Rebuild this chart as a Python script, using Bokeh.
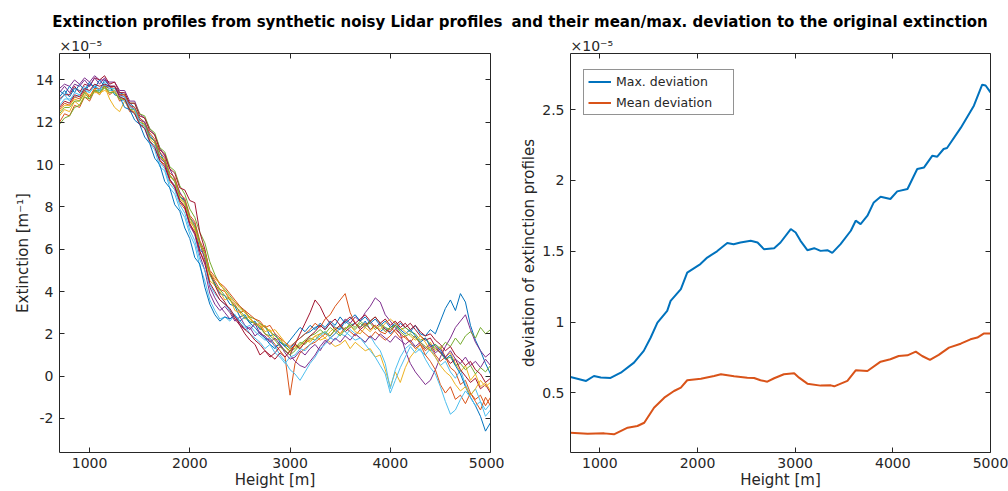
from bokeh.plotting import figure
from bokeh.layouts import row
from bokeh.models import (Range1d, FixedTicker, LinearAxis, Title,
                          CustomJSTickFormatter, Legend, LegendItem)
from bokeh.embed import file_html
from bokeh.resources import INLINE

FONT = "DejaVu Sans"
AX = "#262626"
COLORS = ["#0072BD", "#D95319", "#EDB120", "#7E2F8E", "#77AC30", "#4DBEEE", "#A2142F"]

# ---------------- data (extinction in units of 1e-5 m^-1) ----------------
height = list(range(700, 5001, 50))

ext_01 = [13.2, 13.5, 13.2, 13.6, 13.5, 13.4, 13.8, 13.7, 13.5, 14.0,
          13.7, 13.7, 13.4, 13.3, 12.9, 12.7, 12.2, 12.0, 11.4, 11.1,
          10.6, 10.1, 9.5, 9.2, 8.5, 8.3, 7.3, 7.1, 6.0, 5.7,
          4.8, 4.4, 3.9, 3.8, 3.4, 3.3, 2.8, 2.9, 2.5, 2.6,
          2.2, 2.4, 1.9, 2.0, 1.6, 1.5, 1.3, 1.6, 1.8, 2.0,
          2.1, 2.3, 2.4, 2.2, 2.5, 2.3, 2.2, 2.6, 2.4, 2.5,
          2.3, 2.6, 2.2, 2.4, 2.1, 2.3, 2.0, 2.2, 2.5, 2.3,
          2.1, 2.4, 2.0, 1.9, 2.2, 2.0, 2.6, 3.2, 3.6, 3.1,
          3.9, 3.5, 2.4, 1.7, 1.2, 0.6, 0.1]
ext_02 = [12.0, 12.4, 12.3, 12.8, 12.7, 13.2, 13.0, 13.5, 13.3, 13.7,
          13.3, 13.5, 13.0, 13.1, 12.5, 12.5, 11.9, 11.8, 11.1, 10.9,
          10.2, 10.0, 9.2, 9.0, 8.2, 7.9, 7.2, 6.7, 5.9, 5.4,
          4.9, 4.5, 4.1, 4.0, 3.6, 3.4, 3.0, 3.1, 2.7, 2.5,
          2.4, 2.0, 1.8, 1.5, 1.2, 0.9, -0.9, 0.6, 1.1, 1.3,
          1.5, 1.6, 1.8, 2.0, 1.9, 2.2, 2.0, 2.3, 2.1, 1.9,
          2.2, 2.0, 1.8, 2.1, 1.9, 1.7, 1.9, 2.2, 2.0, 1.8,
          1.6, 1.9, 1.5, 1.2, 1.4, 1.0, 0.7, 0.9, 0.4, 0.2,
          -0.4, -0.2, -0.8, -1.1, -0.9, -1.4, -1.0]
ext_03 = [12.3, 12.6, 12.5, 13.0, 12.8, 13.3, 13.2, 13.6, 13.3, 13.7,
          13.1, 12.7, 12.5, 13.0, 12.6, 12.5, 12.0, 11.9, 11.3, 11.1,
          10.4, 10.2, 9.4, 9.3, 8.4, 8.1, 7.5, 6.9, 6.3, 5.6,
          4.5, 4.3, 4.0, 3.6, 3.7, 3.1, 3.0, 2.7, 2.8, 2.4,
          2.5, 2.1, 2.2, 1.7, 1.8, 1.4, 1.1, 1.5, 1.4, 1.7,
          1.6, 1.9, 1.7, 1.8, 1.6, 1.4, 1.5, 1.7, 1.3, 1.6,
          1.4, 1.2, 1.3, 0.9, 1.0, 0.3, -0.5, 0.2, -0.3, 0.4,
          0.9, 1.2, 1.5, 1.3, 1.6, 1.2, 1.4, 0.9, 1.1, 0.6,
          0.2, 0.5, -0.2, 0.1, -0.5, -0.3, -0.7]
ext_04 = [13.6, 13.8, 13.7, 14.0, 13.8, 14.1, 13.9, 14.2, 14.0, 14.0,
          13.9, 13.9, 13.5, 13.5, 13.0, 13.0, 12.4, 12.2, 11.7, 11.4,
          10.8, 10.4, 9.8, 9.3, 8.7, 8.3, 7.5, 7.2, 6.3, 5.5,
          4.2, 3.7, 3.3, 3.0, 2.7, 2.9, 2.4, 2.2, 2.3, 1.9,
          2.1, 1.8, 1.7, 1.4, 1.5, 1.1, 0.8, 0.9, 1.2, 1.0,
          1.3, 1.5, 1.2, 1.6, 1.8, 2.0, 2.3, 2.7, 2.5, 2.8,
          2.6, 3.0, 3.3, 3.7, 3.5, 2.9, 2.6, 2.3, 2.0, 1.2,
          0.6, 0.2, -0.1, -0.4, -0.2, 0.3, 0.9, 1.4, 1.8, 2.3,
          2.6, 2.9, 2.2, 1.6, 1.2, 0.9, 1.1]
ext_05 = [11.9, 12.2, 12.3, 12.7, 12.8, 13.2, 13.1, 13.5, 13.5, 13.6,
          13.5, 13.6, 13.3, 13.3, 12.9, 12.9, 12.4, 12.3, 11.7, 11.5,
          10.8, 10.6, 9.9, 9.7, 9.0, 8.6, 7.9, 7.5, 6.8, 6.3,
          5.4, 4.8, 4.3, 4.1, 3.8, 3.5, 3.3, 3.0, 2.8, 2.7,
          2.5, 2.3, 2.1, 1.9, 1.7, 1.4, 1.2, 1.3, 1.6, 1.5,
          1.8, 1.7, 2.0, 2.1, 1.9, 2.2, 2.4, 2.2, 2.5, 2.3,
          2.6, 2.4, 2.5, 2.2, 2.4, 2.1, 2.3, 2.4, 2.2, 2.3,
          2.1, 2.0, 1.7, 1.8, 1.5, 1.3, 1.1, 0.8, 0.9, 0.5,
          0.6, 0.3, 0.5, 0.1, 0.4, 0.2, 0.5]
ext_06 = [12.8, 13.1, 13.1, 13.2, 13.3, 13.5, 13.4, 13.7, 13.4, 13.8,
          13.5, 13.5, 13.1, 13.0, 12.6, 12.4, 11.9, 11.7, 11.0, 10.7,
          9.9, 9.7, 8.9, 8.6, 7.9, 7.5, 6.7, 6.2, 5.2, 4.5,
          3.6, 3.1, 2.7, 2.8, 2.6, 2.9, 2.5, 2.3, 2.4, 2.1,
          1.9, 1.7, 1.8, 1.4, 1.0, 0.7, 0.3, 0.1, -0.2, 0.2,
          0.6, 0.9, 1.3, 1.5, 1.8, 1.7, 2.0, 1.9, 2.2, 2.0,
          1.8, 1.6, 1.9, 1.5, 1.2, 0.6, -0.6, 0.3, 0.9, 1.3,
          1.5, 1.4, 1.2, 1.0, 1.3, 0.9, 0.5, 0.7, 0.2, -0.1,
          0.3, -0.4, -0.9, -0.6, -1.2, -1.6, -1.3]
ext_07 = [13.1, 13.3, 13.3, 13.7, 13.4, 13.8, 13.7, 14.1, 14.0, 14.2,
          13.8, 13.9, 13.4, 13.4, 12.9, 12.9, 12.3, 12.2, 11.6, 11.4,
          10.7, 10.5, 9.8, 9.6, 8.9, 8.8, 8.3, 8.2, 6.8, 6.0,
          4.9, 4.3, 3.8, 3.5, 3.1, 2.7, 2.4, 2.0, 1.7, 1.5,
          1.0, 1.2, 0.9, 1.1, 1.4, 1.2, 1.0, 1.5, 2.0, 2.5,
          3.0, 3.6, 3.3, 2.8, 2.5, 2.2, 2.4, 2.1, 2.3, 2.5,
          2.2, 2.4, 2.6, 2.3, 2.5, 2.2, 2.1, 2.4, 2.6, 2.3,
          2.5, 2.2, 1.9, 1.7, 1.8, 1.4, 1.1, 0.9, 0.6, 0.8,
          0.3, 0.0, -0.3, -0.1, -0.6, -0.4, -0.8]
ext_08 = [13.5, 13.3, 13.7, 13.4, 13.8, 13.5, 13.9, 13.6, 14.0, 13.7,
          13.7, 13.3, 13.2, 12.7, 12.6, 12.1, 11.9, 11.3, 11.0, 10.3,
          10.0, 9.2, 8.9, 8.1, 7.8, 7.0, 6.5, 5.6, 5.3, 4.2,
          3.4, 2.9, 2.6, 2.8, 2.7, 2.9, 2.6, 2.8, 2.5, 2.3,
          2.0, 1.8, 1.5, 1.3, 1.6, 1.4, 1.7, 2.0, 2.3, 2.1,
          2.4, 2.2, 2.5, 2.3, 2.6, 2.4, 2.8, 2.5, 2.7, 2.9,
          2.6, 2.8, 2.5, 2.7, 2.4, 2.6, 2.3, 2.5, 2.2, 2.0,
          2.2, 1.9, 1.6, 1.8, 1.4, 1.5, 1.2, 0.8, 1.0, 0.5,
          0.1, -0.5, -1.0, -1.4, -1.9, -2.6, -2.2]
ext_09 = [12.6, 12.9, 12.8, 13.2, 13.1, 13.5, 13.2, 13.6, 13.6, 13.7,
          13.6, 13.7, 13.3, 13.3, 12.8, 12.7, 12.2, 12.0, 11.5, 11.2,
          10.6, 10.3, 9.6, 9.4, 8.6, 8.4, 7.6, 7.3, 6.4, 5.9,
          5.0, 4.7, 4.4, 4.2, 3.9, 3.6, 3.3, 3.1, 2.9, 2.7,
          2.6, 2.3, 2.4, 2.0, 1.8, 1.6, 1.4, 1.6, 1.8, 2.0,
          2.2, 2.5, 2.3, 2.7, 2.9, 3.3, 3.6, 3.9, 3.0, 2.5,
          2.3, 2.5, 2.2, 2.4, 2.1, 2.0, 2.3, 2.1, 1.8, 1.9,
          1.6, 1.3, 1.5, 1.0, 0.7, 0.3, -0.4, -0.8, -0.5, -1.1,
          -0.9, -1.3, -0.8, -1.2, -1.6, -1.0, -1.4]
ext_10 = [12.5, 12.8, 12.8, 13.1, 13.0, 13.4, 13.3, 13.4, 13.4, 13.5,
          13.4, 13.5, 13.1, 13.1, 12.7, 12.6, 12.1, 11.9, 11.2, 11.0,
          10.4, 10.1, 9.5, 9.2, 8.5, 8.2, 7.3, 7.0, 6.2, 5.8,
          4.9, 4.6, 4.4, 4.0, 3.7, 3.5, 3.2, 3.0, 2.7, 2.5,
          2.3, 2.4, 2.1, 2.2, 1.9, 1.6, 1.3, 1.4, 1.3, 1.6,
          1.7, 1.9, 2.0, 1.8, 2.1, 2.3, 2.0, 2.2, 2.4, 2.1,
          2.0, 2.3, 2.1, 2.4, 2.2, 2.5, 2.7, 2.5, 2.3, 2.1,
          1.9, 1.7, 1.9, 1.6, 1.2, 0.9, 0.5, 0.2, 0.0, -0.4,
          -0.7, -0.5, -0.9, -0.6, -0.2, -0.5, -0.3]
ext_11 = [13.4, 13.7, 13.4, 13.8, 13.7, 14.0, 13.7, 14.1, 13.8, 14.1,
          13.7, 13.7, 13.3, 13.2, 12.8, 12.6, 12.1, 12.0, 11.3, 11.1,
          10.3, 10.1, 9.3, 9.0, 8.3, 8.0, 7.1, 6.7, 5.7, 5.0,
          3.9, 3.4, 3.1, 3.3, 3.0, 2.6, 2.8, 2.4, 2.2, 2.5,
          2.0, 1.9, 1.6, 1.8, 1.5, 1.2, 1.0, 0.7, 0.5, 0.4,
          0.7, 1.0, 1.4, 1.7, 1.5, 1.8, 1.6, 1.9, 1.7, 2.0,
          1.8, 1.6, 1.9, 1.7, 2.0, 1.8, 1.6, 1.9, 1.7, 1.5,
          1.7, 1.4, 1.6, 1.3, 1.5, 1.1, 1.3, 0.9, 1.2, 0.8,
          0.6, 0.9, 0.5, 0.7, 0.4, 0.8, 0.5]
ext_12 = [12.4, 12.7, 12.7, 13.0, 13.0, 13.4, 13.1, 13.5, 13.4, 13.7,
          13.4, 13.4, 13.1, 13.1, 12.6, 12.6, 12.0, 11.9, 11.3, 11.1,
          10.4, 10.2, 9.5, 9.2, 8.5, 8.2, 7.5, 7.1, 6.3, 5.8,
          4.8, 4.3, 4.1, 3.8, 3.6, 3.3, 3.1, 2.8, 2.6, 2.5,
          2.3, 2.0, 1.9, 1.7, 1.4, 1.2, 1.0, 1.2, 1.5, 1.7,
          1.9, 2.0, 2.2, 2.0, 2.3, 2.1, 1.9, 2.2, 2.4, 2.2,
          2.5, 2.3, 2.6, 2.8, 2.5, 2.3, 2.2, 2.4, 2.1, 1.9,
          2.0, 1.8, 1.6, 1.4, 1.2, 1.5, 1.3, 1.6, 1.4, 1.8,
          1.5, 1.9, 2.1, 1.8, 2.3, 2.0, 2.2]
ext_13 = [13.0, 13.3, 13.0, 13.4, 13.3, 13.7, 13.4, 13.8, 13.5, 13.9,
          13.6, 13.6, 13.2, 13.2, 12.7, 12.6, 12.0, 11.8, 11.1, 10.9,
          10.1, 9.8, 9.1, 8.8, 8.1, 7.7, 6.9, 6.4, 5.5, 5.0,
          4.3, 3.9, 3.6, 3.4, 3.1, 2.9, 2.6, 2.4, 2.0, 1.8,
          1.6, 1.3, 1.5, 1.1, 0.9, 0.6, 0.9, 1.0, 1.3, 1.2,
          1.5, 1.7, 1.9, 2.1, 1.8, 2.0, 2.3, 2.1, 1.9, 1.7,
          1.8, 1.5, 1.2, 0.9, 0.5, 0.1, -0.8, -0.2, 0.4, 0.9,
          1.4, 1.1, 1.3, 0.8, 0.4, 0.1, -0.5, -1.2, -1.8, -1.6,
          -1.1, -0.7, -1.0, -1.4, -1.2, -1.9, -1.6]
ext_14 = [12.7, 13.0, 12.9, 13.3, 13.2, 13.6, 13.5, 13.8, 13.7, 13.8,
          13.7, 13.7, 13.2, 13.1, 12.6, 12.4, 11.9, 11.7, 11.1, 10.8,
          10.2, 9.9, 9.3, 8.9, 8.3, 8.0, 7.2, 6.8, 5.9, 5.3,
          4.4, 4.0, 3.6, 3.4, 3.2, 2.8, 2.5, 2.2, 2.0, 1.7,
          1.5, 1.2, 1.0, 0.8, 1.1, 0.9, 1.2, 1.5, 1.3, 1.6,
          1.9, 2.1, 2.4, 2.2, 2.5, 2.7, 2.4, 2.6, 2.8, 2.5,
          2.7, 2.9, 2.6, 2.8, 2.5, 2.7, 2.4, 2.6, 2.3, 2.5,
          2.2, 2.4, 2.1, 1.9, 2.0, 1.7, 1.5, 1.2, 1.4, 1.0,
          0.8, 0.5, 0.7, 0.3, 0.1, -0.3, -0.1]

profiles = [ext_01, ext_02, ext_03, ext_04, ext_05, ext_06, ext_07,
            ext_08, ext_09, ext_10, ext_11, ext_12, ext_13, ext_14]

# deviations (units of 1e-5)
max_dev_h = [700, 860, 940, 1010, 1110, 1215, 1350, 1450, 1520, 1590,
             1690, 1725, 1830, 1895, 2030, 2100, 2200, 2305, 2370, 2440,
             2545, 2615, 2680, 2785, 2850, 2955, 3005, 3055, 3125, 3195,
             3260, 3330, 3380, 3465, 3570, 3620, 3670, 3740, 3805, 3875,
             3975, 4045, 4150, 4250, 4320, 4405, 4455, 4520, 4555, 4695,
             4830, 4915, 4950, 5000]
max_dev = [0.613, 0.585, 0.62, 0.61, 0.606, 0.643, 0.714, 0.797, 0.89, 0.997,
           1.08, 1.15, 1.233, 1.35, 1.41, 1.456, 1.50, 1.558, 1.55, 1.562,
           1.574, 1.562, 1.515, 1.522, 1.562, 1.657, 1.633, 1.574, 1.508, 1.522,
           1.503, 1.508, 1.489, 1.551, 1.645, 1.716, 1.692, 1.751, 1.845, 1.885,
           1.869, 1.923, 1.940, 2.081, 2.092, 2.175, 2.168, 2.222, 2.229, 2.371,
           2.528, 2.676, 2.67, 2.622]
mean_dev_h = [700, 875, 1045, 1145, 1285, 1385, 1455, 1555, 1660, 1760,
              1830, 1895, 2035, 2170, 2240, 2375, 2510, 2580, 2645, 2715,
              2785, 2885, 2990, 3040, 3125, 3260, 3365, 3400, 3535, 3620,
              3740, 3875, 3975, 4060, 4150, 4235, 4300, 4380, 4470, 4575,
              4695, 4795, 4865, 4930, 5000]
mean_dev = [0.219, 0.212, 0.215, 0.208, 0.255, 0.267, 0.29, 0.396, 0.467, 0.514,
            0.538, 0.59, 0.601, 0.62, 0.632, 0.618, 0.608, 0.606, 0.59, 0.58,
            0.604, 0.632, 0.639, 0.608, 0.566, 0.552, 0.554, 0.547, 0.585, 0.66,
            0.655, 0.721, 0.738, 0.761, 0.766, 0.792, 0.761, 0.733, 0.769, 0.82,
            0.848, 0.879, 0.891, 0.919, 0.919]

left_yticks = [-2, 0, 2, 4, 6, 8, 10, 12, 14]
right_yticks = [0.5, 1, 1.5, 2, 2.5]
xticks = [1000, 2000, 3000, 4000, 5000]

for prof in profiles:
    assert len(prof) == len(height), len(prof)

TITLE_1 = "Extinction profiles from synthetic noisy Lidar profiles"
TITLE_2 = "and their mean/max. deviation to the original extinction"
EXPONENT = "\u00d710\u207b\u2075"

plain = CustomJSTickFormatter(code="return tick.toString();")
empty = CustomJSTickFormatter(code="return '';")


def style_axis(ax, ticks, label=None, show=True):
    ax.ticker = FixedTicker(ticks=ticks)
    ax.axis_line_color = AX
    ax.axis_line_width = 1
    ax.major_tick_line_color = AX
    ax.major_tick_line_width = 1
    ax.major_tick_in = 5
    ax.major_tick_out = 0
    ax.minor_tick_line_color = None
    ax.major_label_text_font = FONT
    ax.major_label_text_font_size = "14px"
    ax.major_label_text_color = AX
    ax.axis_label_text_font = FONT
    ax.axis_label_text_font_size = "15px"
    ax.axis_label_text_font_style = "normal"
    ax.axis_label_text_color = AX
    if show:
        ax.formatter = plain
    else:
        ax.formatter = empty
        ax.major_label_standoff = 0
        ax.major_label_text_font_size = "0px"
    if label is not None:
        ax.axis_label = label


def make_fig(width, yr, left, right, yticks, ylabel, title_text, title_align, title_offset):
    p = figure(width=width, height=491, output_backend="svg", toolbar_location=None,
               x_range=Range1d(700, 5000), y_range=Range1d(*yr),
               min_border_left=left, min_border_right=right,
               min_border_top=53, min_border_bottom=39)
    p.grid.visible = False
    p.outline_line_color = None
    p.background_fill_color = "white"
    p.border_fill_color = "white"
    style_axis(p.xaxis[0], xticks, "Height [m]")
    p.xaxis[0].major_label_standoff = 5
    p.xaxis[0].axis_label_standoff = 0
    style_axis(p.yaxis[0], yticks, ylabel)
    p.yaxis[0].major_label_standoff = 6
    p.yaxis[0].axis_label_standoff = 1
    top = LinearAxis()
    style_axis(top, xticks, show=False)
    p.add_layout(top, "above")
    rgt = LinearAxis()
    style_axis(rgt, yticks, show=False)
    p.add_layout(rgt, "right")
    # exponent marker right above the frame, then the (split) figure title
    p.add_layout(Title(text=EXPONENT, align="left", offset=0, standoff=0,
                       vertical_align="bottom", text_font=FONT, text_font_size="14px",
                       text_font_style="normal", text_color=AX), "above")
    p.add_layout(Title(text=title_text, align=title_align, offset=title_offset, standoff=8,
                       vertical_align="middle", text_font=FONT, text_font_size="15px",
                       text_font_style="bold", text_color="black"), "above")
    return p


# ---------------- left panel ----------------
p1 = make_fig(504, (-3.61, 15.25), 59, 14, left_yticks, "Extinction [m\u207b\u00b9]",
              TITLE_1, "right", -12)
for i, prof in enumerate(profiles):
    p1.line(height, prof, line_color=COLORS[i % len(COLORS)], line_width=1)

# ---------------- right panel ----------------
p2 = make_fig(504, (0.08, 2.896), 66, 18, right_yticks, "deviation of extinction profiles",
              TITLE_2, "left", -59)
r_max = p2.line(max_dev_h, max_dev, line_color="#0072BD", line_width=2)
r_mean = p2.line(mean_dev_h, mean_dev, line_color="#D95319", line_width=2)

legend = Legend(items=[LegendItem(label="Max. deviation", renderers=[r_max]),
                       LegendItem(label="Mean deviation", renderers=[r_mean])],
                location=(13, 337), orientation="vertical")
legend.label_text_font = FONT
legend.label_text_font_size = "12.5px"
legend.label_text_color = AX
legend.border_line_color = AX
legend.border_line_width = 1
legend.background_fill_color = "white"
legend.background_fill_alpha = 1
legend.glyph_width = 23
legend.glyph_height = 15
legend.label_height = 15
legend.label_standoff = 5
legend.label_width = 113
legend.spacing = 6
legend.padding = 4
legend.margin = 0
p2.add_layout(legend)

layout = row(p1, p2, spacing=0)
open("out.html", "w").write(file_html(layout, INLINE))
